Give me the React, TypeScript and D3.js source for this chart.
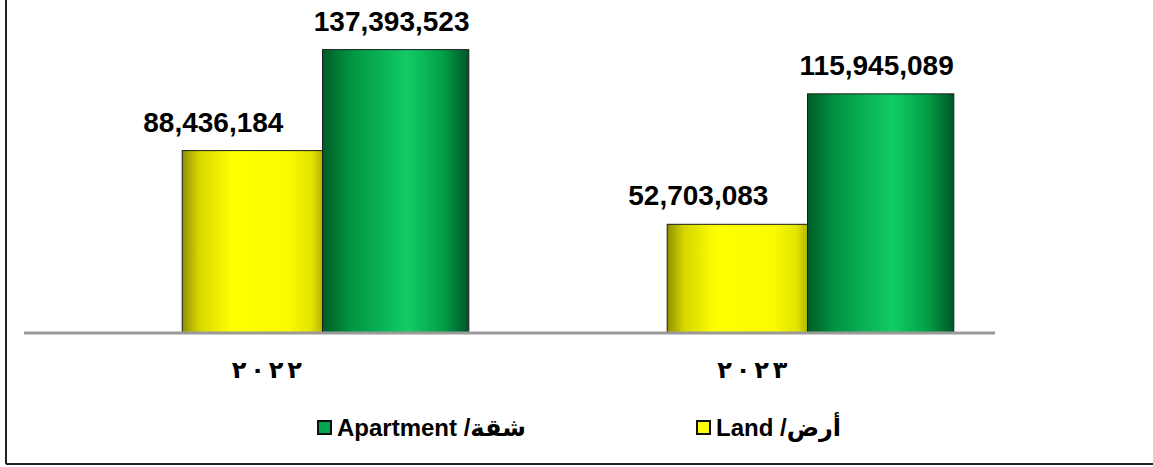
import React, { useRef, useEffect } from "react";
import * as d3 from "d3";

// chart data
const years = ["٢٠٢٢", "٢٠٢٣"];
const landValues = [88436184, 52703083];
const apartmentValues = [137393523, 115945089];
const seriesNames = ["Land /أرض", "Apartment /شقة"];

const W = 1153;
const H = 467;

const App = () => {
  const svgRef = useRef<SVGSVGElement>(null);

  useEffect(() => {
    const svg = d3.select(svgRef.current);
    svg.selectAll("*").remove();

    const baseY = 333;
    const font = "Arial, 'Liberation Sans', 'DejaVu Sans', sans-serif";

    // gradients for the cylinder-ish Excel fills
    const defs = svg.append("defs");
    const mkGrad = (id: string, stops: [number, string][]) => {
      const g = defs.append("linearGradient").attr("id", id)
        .attr("x1", "0%").attr("x2", "100%").attr("y1", "0%").attr("y2", "0%");
      stops.forEach(([o, c]) => g.append("stop").attr("offset", `${o}%`).attr("stop-color", c));
    };
    mkGrad("gLand", [[0, "#8f8f00"], [12, "#d6d600"], [35, "#ffff00"], [75, "#fbfb00"], [92, "#e4e400"], [100, "#b5b500"]]);
    mkGrad("gApt", [[0, "#005c26"], [18, "#009240"], [58, "#12cc66"], [82, "#02a046"], [100, "#00552a"]]);

    // frame (only left + bottom edges visible)
    svg.append("line").attr("x1", 6).attr("x2", 6).attr("y1", 0).attr("y2", 464)
      .attr("stroke", "#222").attr("stroke-width", 2);
    svg.append("line").attr("x1", 6).attr("x2", W).attr("y1", 464).attr("y2", 464)
      .attr("stroke", "#222").attr("stroke-width", 2);

    const y = d3.scaleLinear().domain([0, 160000000]).range([baseY, 3]);

    // category axis (labels) and bar groups (shifted as in the original)
    const xAxis = d3.scaleBand().domain(years).range([24, 995]);
    const xGroup = d3.scaleBand().domain(years).range([80, 1050]);
    const groupInner = 0.405;

    const rows = years.map((yr, i) => ({ yr, land: landValues[i], apt: apartmentValues[i] }));

    rows.forEach((d) => {
      const c = xGroup(d.yr)! + xGroup.bandwidth() / 2;
      const bw = xGroup.bandwidth() * groupInner / 1.4;
      // land bar
      svg.append("rect")
        .attr("x", c - bw).attr("y", y(d.land))
        .attr("width", bw).attr("height", baseY - y(d.land))
        .attr("fill", "url(#gLand)").attr("stroke", "#1a1a1a").attr("stroke-width", 1);
      // apartment bar
      svg.append("rect")
        .attr("x", c).attr("y", y(d.apt))
        .attr("width", bw + 6).attr("height", baseY - y(d.apt))
        .attr("fill", "url(#gApt)").attr("stroke", "#1a1a1a").attr("stroke-width", 1);

      svg.append("text")
        .attr("x", c - bw / 2 - 39).attr("y", y(d.land) - 19)
        .attr("text-anchor", "middle")
        .style("font-family", font).style("font-weight", "bold").style("font-size", "28px")
        .text(d3.format(",")(d.land));
      svg.append("text")
        .attr("x", c + bw / 2 - 1).attr("y", y(d.apt) - 19)
        .attr("text-anchor", "middle")
        .style("font-family", font).style("font-weight", "bold").style("font-size", "28px")
        .text(d3.format(",")(d.apt));
    });

    // axis line
    svg.append("line").attr("x1", 24).attr("x2", 995).attr("y1", baseY).attr("y2", baseY)
      .attr("stroke", "#9a9a9a").attr("stroke-width", 3);

    // category labels (digits spaced out one by one)
    years.forEach((yr) => {
      const cx = xAxis(yr)! + xAxis.bandwidth() / 2;
      Array.from(yr).forEach((ch, k) => {
        svg.append("text")
          .attr("x", cx + (k - 1.5) * 18.5).attr("y", 378)
          .attr("text-anchor", "middle")
          .style("font-family", "'DejaVu Sans', sans-serif").style("font-weight", "bold")
          .style("font-size", "24px")
          .text(ch);
      });
    });

    // legend
    const legend = [
      { name: seriesNames[1], color: "#00a550", x: 318 },
      { name: seriesNames[0], color: "#ffff00", x: 697 },
    ];
    legend.forEach((l) => {
      svg.append("rect").attr("x", l.x).attr("y", 421).attr("width", 13).attr("height", 13)
        .attr("fill", l.color).attr("stroke", "#111").attr("stroke-width", 2);
      svg.append("text").attr("x", l.x + 19).attr("y", 436)
        .style("font-family", font).style("font-weight", "bold").style("font-size", "24px")
        .attr("direction", "ltr")
        .text(l.name);
    });
  }, []);

  return (
    <div style={{ position: "absolute", left: 0, top: 0 }}>
      <svg ref={svgRef} width={W} height={H} style={{ display: "block", background: "#fff" }} />
    </div>
  );
};

export default App;
